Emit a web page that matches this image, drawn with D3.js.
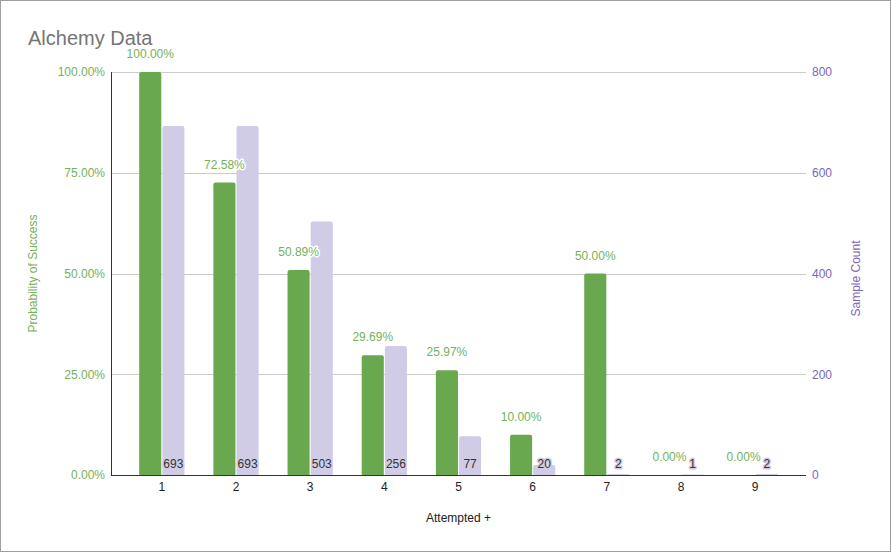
<!DOCTYPE html>
<html>
<head>
<meta charset="utf-8">
<script src="https://cdn.jsdelivr.net/npm/d3@7"></script>
<style>
  html, body { margin: 0; padding: 0; background: #fff; }
  svg { display: block; font-family: "Liberation Sans", Arial, sans-serif; }
</style>
</head>
<body>
<div id="chart"></div>
<script>
// Alchemy success rate vs sample count
const attempts = ['1', '2', '3', '4', '5', '6', '7', '8', '9'];
const successRate = [1.0, 0.7258, 0.5089, 0.2969, 0.2597, 0.10, 0.50, 0.0, 0.0];
const sampleCount = [693, 693, 503, 256, 77, 20, 2, 1, 2];
const leftTicks = [0, 0.25, 0.5, 0.75, 1];
const rightTicks = [0, 200, 400, 600, 800];

const W = 891, H = 552;
const plot = {left: 111, right: 806, top: 72, bottom: 475};

const green = '#6aa84f';
const greenText = '#74b259';
const lavender = '#d1cce6';
const purpleText = '#7a66b5';

const svg = d3.select('#chart').append('svg')
    .attr('width', W)
    .attr('height', H);

svg.append('rect')
    .attr('x', 0.5).attr('y', 0.5)
    .attr('width', W - 1).attr('height', H - 1)
    .attr('fill', '#fff')
    .attr('stroke', '#9e9e9e');

// Scales
const x = d3.scaleBand()
    .domain(attempts)
    .range([plot.left, plot.right])
    .paddingInner(0.39)
    .paddingOuter(0.38);

const xs = d3.scaleBand()
    .domain(['rate', 'count'])
    .range([0, x.bandwidth()])
    .paddingInner(0.045);

const yL = d3.scaleLinear().domain([0, 1]).range([plot.bottom, plot.top]);
const yR = d3.scaleLinear().domain([0, 800]).range([plot.bottom, plot.top]);

// Title
svg.append('text')
    .attr('x', 28).attr('y', 45)
    .attr('fill', '#757575')
    .style('font-size', '20px')
    .text('Alchemy Data');

// Gridlines
svg.append('g')
    .selectAll('line')
    .data(leftTicks.filter(d => d > 0))
    .join('line')
    .attr('x1', plot.left).attr('x2', plot.right)
    .attr('y1', d => Math.round(yL(d)) + 0.5)
    .attr('y2', d => Math.round(yL(d)) + 0.5)
    .attr('stroke', '#cccccc');

// Left axis
const leftAxis = svg.append('g')
    .attr('transform', `translate(${plot.left},0)`)
    .call(d3.axisLeft(yL).tickValues(leftTicks).tickFormat(d3.format('.2%')).tickSize(0).tickPadding(6));
leftAxis.select('.domain').remove();
leftAxis.selectAll('text')
    .attr('fill', greenText)
    .style('font-size', '12px')
    .style('font-family', '"Liberation Sans", Arial, sans-serif');

// Right axis
const rightAxis = svg.append('g')
    .attr('transform', `translate(${plot.right},0)`)
    .call(d3.axisRight(yR).tickValues(rightTicks).tickSize(0).tickPadding(6));
rightAxis.select('.domain').remove();
rightAxis.selectAll('text')
    .attr('fill', purpleText)
    .style('font-size', '12px')
    .style('font-family', '"Liberation Sans", Arial, sans-serif');

// Bars
function topRounded(x0, y0, w, h, r) {
    if (h <= 0) return '';
    r = Math.min(r, h, w / 2);
    return `M${x0},${y0 + h}V${y0 + r}Q${x0},${y0} ${x0 + r},${y0}H${x0 + w - r}Q${x0 + w},${y0} ${x0 + w},${y0 + r}V${y0 + h}Z`;
}

const groups = svg.append('g')
    .selectAll('g')
    .data(attempts)
    .join('g')
    .attr('transform', d => `translate(${x(d)},0)`);

groups.append('path')
    .attr('fill', green)
    .attr('d', (d, i) => topRounded(xs('rate'), yL(successRate[i]), xs.bandwidth(), plot.bottom - yL(successRate[i]), 2));

groups.append('path')
    .attr('fill', lavender)
    .attr('d', (d, i) => topRounded(xs('count'), yR(sampleCount[i]), xs.bandwidth(), plot.bottom - yR(sampleCount[i]), 2));

// Axis lines
svg.append('line')
    .attr('x1', plot.left + 0.5).attr('x2', plot.left + 0.5)
    .attr('y1', plot.top).attr('y2', plot.bottom)
    .attr('stroke', '#333');
svg.append('line')
    .attr('x1', plot.left).attr('x2', plot.right)
    .attr('y1', plot.bottom + 0.5).attr('y2', plot.bottom + 0.5)
    .attr('stroke', '#333');

// Data labels
groups.append('text')
    .attr('x', xs('rate') + xs.bandwidth() / 2)
    .attr('y', (d, i) => yL(successRate[i]) - 14)
    .attr('text-anchor', 'middle')
    .attr('fill', greenText)
    .attr('stroke', '#fff')
    .attr('stroke-width', 3)
    .attr('stroke-linejoin', 'round')
    .style('paint-order', 'stroke')
    .style('font-size', '12px')
    .text((d, i) => d3.format('.2%')(successRate[i]));

groups.append('text')
    .attr('x', xs('count') + xs.bandwidth() / 2)
    .attr('y', plot.bottom - 7)
    .attr('text-anchor', 'middle')
    .attr('fill', '#333')
    .attr('stroke', lavender)
    .attr('stroke-width', 3)
    .attr('stroke-linejoin', 'round')
    .style('paint-order', 'stroke')
    .style('font-size', '12px')
    .text((d, i) => sampleCount[i]);

// X tick labels
svg.append('g')
    .selectAll('text')
    .data(attempts)
    .join('text')
    .attr('x', d => x(d) + x.bandwidth() / 2)
    .attr('y', 491)
    .attr('text-anchor', 'middle')
    .attr('fill', '#222')
    .style('font-size', '12px')
    .text(d => d);

// Axis titles
svg.append('text')
    .attr('x', (plot.left + plot.right) / 2)
    .attr('y', 522)
    .attr('text-anchor', 'middle')
    .attr('fill', '#222')
    .style('font-size', '12px')
    .text('Attempted +');

svg.append('text')
    .attr('transform', `translate(37,${(plot.top + plot.bottom) / 2}) rotate(-90)`)
    .attr('text-anchor', 'middle')
    .attr('fill', greenText)
    .style('font-size', '12px')
    .text('Probability of Success');

svg.append('text')
    .attr('transform', `translate(860,${(plot.top + plot.bottom) / 2 + 5}) rotate(-90)`)
    .attr('text-anchor', 'middle')
    .attr('fill', purpleText)
    .style('font-size', '12px')
    .text('Sample Count');
</script>
</body>
</html>
